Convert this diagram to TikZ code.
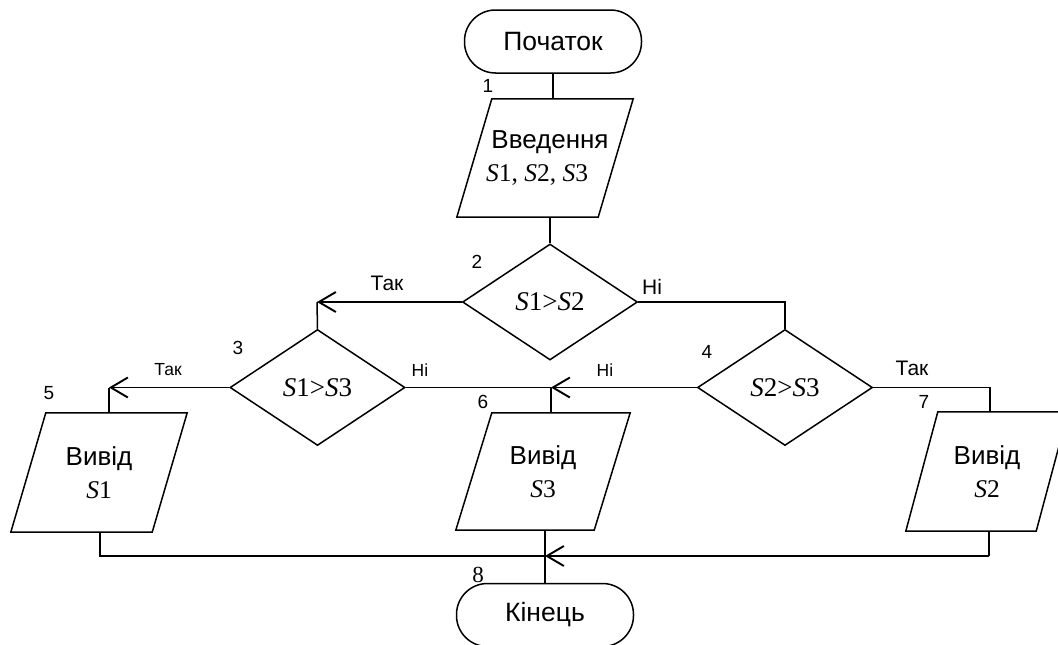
\documentclass[tikz,border=0pt]{standalone}
\usepackage{fontspec}
\setmainfont{Liberation Sans}
\newfontfamily\tms{Liberation Serif}
\usetikzlibrary{shapes.geometric,arrows.meta}
\newcommand\drawpara[2]{\draw[conn] ([xshift=#2]#1.north west) -- (#1.north east) -- ([xshift=-#2]#1.south east) -- (#1.south west) -- cycle;}
\tikzset{
 term/.style={draw, line width=1.5pt, rectangle, rounded corners=31pt, minimum width=177pt, minimum height=63pt, inner sep=0pt, font=\fontsize{26.5}{30}\selectfont},
 io/.style={rectangle, inner sep=0pt, align=center, font=\fontsize{26}{33}\selectfont},
 dec/.style={draw, line width=1.5pt, diamond, minimum width=175pt, minimum height=116pt, inner sep=0pt, font=\tms\fontsize{27}{30}\selectfont},
 num/.style={font=\fontsize{19}{22}\selectfont, inner sep=0pt},
 lbl/.style={font=\fontsize{21}{24}\selectfont, inner sep=0pt},
 slbl/.style={font=\fontsize{17.5}{20}\selectfont, inner sep=0pt},
 conn/.style={line width=1.5pt},
 arr/.style={line width=1.9pt, -{Straight Barb[length=17pt,width=20pt]}},
}
\newcommand\svf{\tms\fontsize{25.5}{33}\selectfont}
\begin{document}
\begin{tikzpicture}[x=1pt,y=-1pt]
\useasboundingbox (0,0) rectangle (1058,645);
\clip (0,0) rectangle (1058,645);
% nodes
\node[term] (start) at (553,41.5) {Початок};
\node[io, minimum width=176pt, minimum height=118pt] (p1) at (545,158) {\hspace*{10pt}Введення\\{\svf\textit{S}1, \textit{S}2, \textit{S}3}\hspace*{16pt}};
\drawpara{p1}{35pt}
\node[dec] (d2) at (550,302) {\textit{S}1>\textit{S}2};
\node[dec] (d3) at (317.5,387.5) {\textit{S}1>\textit{S}3};
\node[dec] (d4) at (785,387.5) {\textit{S}2>\textit{S}3};
\node[io, minimum width=176pt, minimum height=119pt] (p5) at (99,472.5) {Вивід\\{\svf\textit{S}1}};
\drawpara{p5}{35pt}
\node[io, minimum width=174pt, minimum height=117pt] (p6) at (543,471.5) {Вивід\\{\svf\textit{S}3}};
\drawpara{p6}{36pt}
\node[io, minimum width=162pt, minimum height=119pt] (p7) at (987,471.5) {Вивід\\{\svf\textit{S}2}};
\drawpara{p7}{32pt}
\node[term] (end) at (545,615) {Кінець};
% coordinates
\coordinate (c2) at (317,302);
\coordinate (c4) at (785,302);
\coordinate (c3) at (109,387.5);
\coordinate (c6) at (551,387.5);
\coordinate (c7) at (990,387.5);
\coordinate (m) at (545,556);
\coordinate (b5) at (100,556);
\coordinate (b7) at (989,556);
% connectors
\draw[conn] (start.south) -- (start.south |- p1.north);
\draw[conn] (d2.north |- p1.south) -- (d2.north);
\draw[arr] (d2.west) -- (c2);
\draw[conn] (c2) -- (d3.north);
\draw[conn] (d2.east) -- (c4) -- (d4.north);
\draw[arr] (d3.west) -- (c3);
\draw[conn] (c3) -- (c3 |- p5.north);
\draw[conn] (d3.east) -- (c6);
\draw[arr] (d4.west) -- (c6);
\draw[conn] (c6) -- (c6 |- p6.north);
\draw[conn] (d4.east) -- (c7) -- (c7 |- p7.north);
\draw[conn] (b7 |- p7.south) -- (b7);
\draw[arr] (b7) -- (m);
\draw[conn] (b5 |- p5.south) -- (b5) -- (m);
\draw[conn] (m |- p6.south) -- (m) -- (end.north);
% labels
\node[num] (n1) at (488,86) {1};
\node[num] (n2) at (477,262) {2};
\node[num] (n3) at (238,348) {3};
\node[num] (n4) at (707,352) {4};
\node[num] (n5) at (49,393) {5};
\node[num] (n6) at (483,402) {6};
\node[num] (n7) at (924,402) {7};
\node[font=\tms\fontsize{23}{26}\selectfont, inner sep=0pt] (n8) at (478,575) {8};
\node[lbl] (t2) at (387,283) {Так};
\node[lbl] (h2) at (652,287) {Ні};
\node[slbl] (t3) at (168,370) {Так};
\node[slbl] (h3) at (420,370) {Ні};
\node[slbl] (h4) at (605,370) {Ні};
\node[lbl] (t4) at (912,368) {Так};
\end{tikzpicture}
\end{document}
